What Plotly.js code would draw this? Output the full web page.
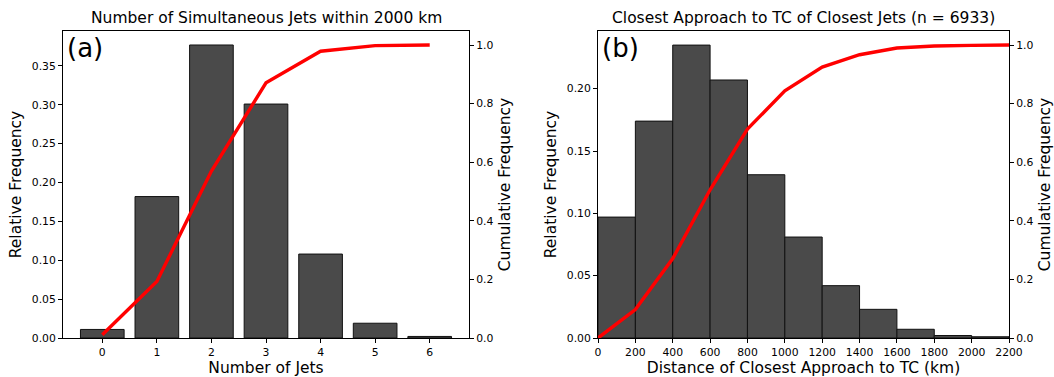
<!DOCTYPE html>
<html>
<head>
<meta charset="utf-8">
<script src="https://cdn.plot.ly/plotly-3.0.1.min.js"></script>
<style>html,body{margin:0;padding:0;background:#fff}#chart{width:1054px;height:377px}</style>
</head>
<body>
<div id="chart"></div>
<script>
// Panel (a): number of simultaneous jets within 2000 km
const jetCounts = [0, 1, 2, 3, 4, 5, 6];
const jetRelFreq = [0.011, 0.182, 0.377, 0.301, 0.108, 0.019, 0.002];
const jetCumFreq = [0.011, 0.193, 0.570, 0.871, 0.979, 0.998, 1.000];

// Panel (b): closest approach to TC of closest jets (n = 6933)
const distBinLeft = [0, 200, 400, 600, 800, 1000, 1200, 1400, 1600, 1800, 2000];
const distRelFreq = [0.097, 0.174, 0.235, 0.207, 0.131, 0.081, 0.042, 0.023, 0.007, 0.002, 0.001];
const distCumX = [0, 200, 400, 600, 800, 1000, 1200, 1400, 1600, 1800, 2000, 2200];
const distCumFreq = [0, 0.097, 0.271, 0.506, 0.713, 0.844, 0.925, 0.967, 0.990, 0.997, 0.999, 1.000];

const leftTicks = [0, 0.05, 0.10, 0.15, 0.20, 0.25, 0.30, 0.35];
const cumTicks = [0, 0.2, 0.4, 0.6, 0.8, 1.0];
const rightTicks = [0, 0.05, 0.10, 0.15, 0.20];
const distTicks = [0, 200, 400, 600, 800, 1000, 1200, 1400, 1600, 1800, 2000, 2200];

const FONT = 'DejaVu Sans, sans-serif';
const barColor = '#4a4a4a';

const traces = [
  {type: 'bar', x: jetCounts, y: jetRelFreq, width: 0.8, xaxis: 'x', yaxis: 'y',
   marker: {color: barColor, line: {color: '#111', width: 1}}},
  {type: 'scatter', mode: 'lines', x: jetCounts, y: jetCumFreq, xaxis: 'x', yaxis: 'y2',
   line: {color: '#ff0000', width: 3.4}},
  {type: 'bar', x: distBinLeft, y: distRelFreq, width: 200, offset: 0, xaxis: 'x2', yaxis: 'y3',
   marker: {color: barColor, line: {color: '#111', width: 1}}},
  {type: 'scatter', mode: 'lines', x: distCumX, y: distCumFreq, xaxis: 'x2', yaxis: 'y4',
   line: {color: '#ff0000', width: 3.4}}
];

const axBase = {
  showgrid: false, zeroline: false, showline: true, linecolor: '#000', linewidth: 1,
  ticks: 'outside', ticklen: 4, tickwidth: 1, tickcolor: '#000',
  tickfont: {family: FONT, size: 10.8, color: '#000'}
};
const titleFont = {family: FONT, size: 15.5, color: '#000'};

const L = [63/1054, 469/1054];
const R = [598/1054, 1009/1054];

const layout = {
  width: 1054, height: 377,
  margin: {l: 0, r: 0, t: 31, b: 39},
  paper_bgcolor: '#fff', plot_bgcolor: '#fff',
  showlegend: false,
  bargap: 0,
  xaxis: Object.assign({}, axBase, {domain: L, range: [-0.72, 6.72], anchor: 'y', mirror: true,
    tickvals: jetCounts, ticktext: jetCounts.map(String),
    title: {text: 'Number of Jets', font: titleFont, standoff: 4}}),
  yaxis: Object.assign({}, axBase, {domain: [0, 1], anchor: 'x', range: [0, 0.395],
    tickvals: leftTicks, ticktext: leftTicks.map(v => v.toFixed(2)),
    title: {text: 'Relative Frequency', font: titleFont, standoff: 6}}),
  yaxis2: Object.assign({}, axBase, {overlaying: 'y', side: 'right', anchor: 'x', range: [0, 1.048],
    tickvals: cumTicks, ticktext: cumTicks.map(v => v.toFixed(1)),
    title: {text: 'Cumulative Frequency', font: titleFont, standoff: 6}}),
  xaxis2: Object.assign({}, axBase, {domain: R, range: [0, 2200], anchor: 'y3', mirror: true,
    tickvals: distTicks, ticktext: distTicks.map(String),
    title: {text: 'Distance of Closest Approach to TC (km)', font: titleFont, standoff: 4}}),
  yaxis3: Object.assign({}, axBase, {domain: [0, 1], anchor: 'x2', range: [0, 0.2463],
    tickvals: rightTicks, ticktext: rightTicks.map(v => v.toFixed(2)),
    title: {text: 'Relative Frequency', font: titleFont, standoff: 6}}),
  yaxis4: Object.assign({}, axBase, {overlaying: 'y3', side: 'right', anchor: 'x2', range: [0, 1.048],
    tickvals: cumTicks, ticktext: cumTicks.map(v => v.toFixed(1)),
    title: {text: 'Cumulative Frequency', font: titleFont, standoff: 6}}),
  annotations: [
    {text: 'Number of Simultaneous Jets within 2000 km', xref: 'paper', yref: 'paper',
     x: (L[0] + L[1]) / 2, y: 1, xanchor: 'center', yanchor: 'bottom', yshift: 2, showarrow: false,
     font: {family: FONT, size: 15.5, color: '#000'}},
    {text: 'Closest Approach to TC of Closest Jets (n = 6933)', xref: 'paper', yref: 'paper',
     x: (R[0] + R[1]) / 2, y: 1, xanchor: 'center', yanchor: 'bottom', yshift: 2, showarrow: false,
     font: {family: FONT, size: 15.5, color: '#000'}},
    {text: '(a)', xref: 'paper', yref: 'paper', x: L[0], y: 1, xanchor: 'left', yanchor: 'top',
     xshift: 2, yshift: 0, showarrow: false, font: {family: FONT, size: 26, color: '#000'}},
    {text: '(b)', xref: 'paper', yref: 'paper', x: R[0], y: 1, xanchor: 'left', yanchor: 'top',
     xshift: 2, yshift: 0, showarrow: false, font: {family: FONT, size: 26, color: '#000'}}
  ]
};

Plotly.newPlot('chart', traces, layout, {displayModeBar: false, staticPlot: true});
</script>
</body>
</html>
